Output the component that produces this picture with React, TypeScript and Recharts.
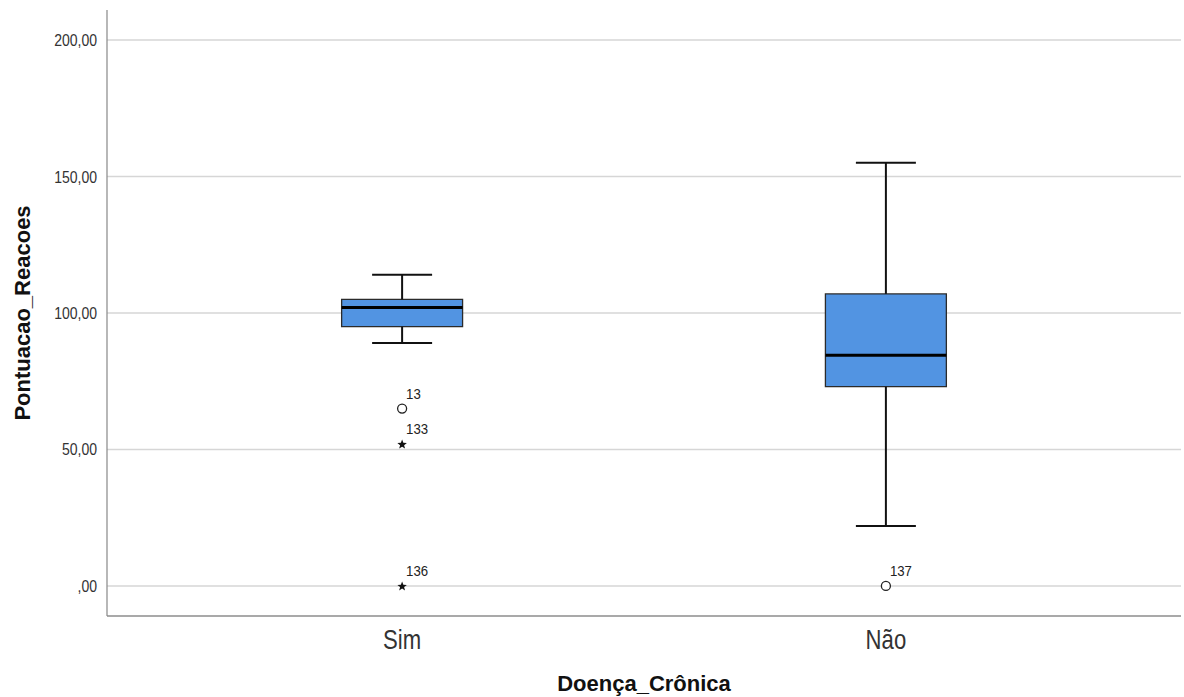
import React from 'react';
import {
  ComposedChart,
  XAxis,
  YAxis,
  CartesianGrid,
  Scatter,
  ReferenceArea,
  ReferenceLine,
} from 'recharts';

// Categories and their positions on the x axis
const categories = ['Sim', 'Não'];
const positions = [1, 2];

// Box plot statistics per category
const whiskerLow = [89, 22];
const q1 = [95, 73];
const median = [102, 84.5];
const q3 = [105, 107];
const whiskerHigh = [114, 155];

// Outliers
const outlierCategory = [1, 1, 1, 2];
const outlierValues = [65, 52, 0, 0];
const outlierIds = ['13', '133', '136', '137'];
const outlierKinds = ['circle', 'star', 'star', 'circle'];

const yTicks = [0, 50, 100, 150, 200];

const outlierData = outlierValues.map((v, i) => ({
  x: outlierCategory[i],
  y: v,
  id: outlierIds[i],
  kind: outlierKinds[i],
}));

const BOX_HALF = 0.125;
const CAP_HALF = 0.062;
const FONT = '"Liberation Sans", Arial, sans-serif';

const starPath = (cx: number, cy: number, r: number) => {
  const pts: string[] = [];
  for (let i = 0; i < 10; i++) {
    const rad = i % 2 === 0 ? r : r * 0.42;
    const a = -Math.PI / 2 + (i * Math.PI) / 5;
    pts.push(`${cx + rad * Math.cos(a)},${cy + rad * Math.sin(a)}`);
  }
  return `M${pts.join('L')}Z`;
};

const OutlierShape = (props: any) => {
  const { cx, cy, payload } = props;
  return (
    <g>
      {payload.kind === 'circle' ? (
        <circle cx={cx} cy={cy} r={4.5} fill="#fff" stroke="#222" strokeWidth={1.3} />
      ) : (
        <path d={starPath(cx, cy + 0.5, 5)} fill="#111" />
      )}
      <text
        transform={`translate(${cx + 4},${cy - 10}) scale(0.88,1)`}
        fontSize={15}
        fontFamily={FONT}
        fill="#222"
      >
        {payload.id}
      </text>
    </g>
  );
};

const XTick = (props: any) => {
  const { x, y, payload } = props;
  return (
    <text
      transform={`translate(${x},${y + 19}) scale(0.82,1)`}
      textAnchor="middle"
      fontSize={27}
      fontFamily={FONT}
      fill="#333"
    >
      {categories[payload.value - 1] ?? ''}
    </text>
  );
};

const YTick = (props: any) => {
  const { x, y, payload } = props;
  const v = payload.value;
  return (
    <text
      transform={`translate(${x},${y + 6}) scale(0.85,1)`}
      textAnchor="end"
      fontSize={16.5}
      fontFamily={FONT}
      fill="#333"
    >
      {v === 0 ? ',00' : `${v},00`}
    </text>
  );
};

export default function App() {
  return (
    <div style={{ position: 'absolute', left: 0, top: 0, background: '#fff' }}>
      <ComposedChart
        width={1184}
        height={697}
        margin={{ top: 10, right: 3, left: 0, bottom: 0 }}
      >
        <CartesianGrid
          vertical={false}
          horizontalValues={yTicks}
          stroke="#d6d6d6"
          strokeWidth={1.6}
        />
        <XAxis
          type="number"
          dataKey="x"
          domain={[0.39, 2.61]}
          ticks={positions}
          allowDataOverflow
          height={81}
          tickSize={0}
          tickMargin={14}
          axisLine={{ stroke: '#555', strokeWidth: 1.2 }}
          tick={<XTick />}
          label={{
            value: 'Doença_Crônica',
            position: 'insideBottom',
            offset: 6,
            style: { fontSize: 22, fontWeight: 'bold', fill: '#111', fontFamily: FONT },
          }}
        />
        <YAxis
          type="number"
          dataKey="y"
          domain={[-11, 211]}
          ticks={yTicks}
          allowDataOverflow
          width={107}
          tickSize={0}
          tickMargin={10}
          axisLine={{ stroke: '#888', strokeWidth: 1.2 }}
          tick={<YTick />}
          label={{
            value: 'Pontuacao_Reacoes',
            angle: -90,
            position: 'insideLeft',
            offset: 22,
            style: {
              fontSize: 22,
              fontWeight: 'bold',
              fill: '#111',
              fontFamily: FONT,
              textAnchor: 'middle',
            },
          }}
        />
        {positions.map((p, i) => (
          <ReferenceLine
            key={`wu${i}`}
            segment={[{ x: p, y: q3[i] }, { x: p, y: whiskerHigh[i] }]}
            stroke="#111"
            strokeWidth={2}
          />
        ))}
        {positions.map((p, i) => (
          <ReferenceLine
            key={`wl${i}`}
            segment={[{ x: p, y: whiskerLow[i] }, { x: p, y: q1[i] }]}
            stroke="#111"
            strokeWidth={2}
          />
        ))}
        {positions.map((p, i) => (
          <ReferenceLine
            key={`cu${i}`}
            segment={[{ x: p - CAP_HALF, y: whiskerHigh[i] }, { x: p + CAP_HALF, y: whiskerHigh[i] }]}
            stroke="#111"
            strokeWidth={2}
          />
        ))}
        {positions.map((p, i) => (
          <ReferenceLine
            key={`cl${i}`}
            segment={[{ x: p - CAP_HALF, y: whiskerLow[i] }, { x: p + CAP_HALF, y: whiskerLow[i] }]}
            stroke="#111"
            strokeWidth={2}
          />
        ))}
        {positions.map((p, i) => (
          <ReferenceArea
            key={`box${i}`}
            x1={p - BOX_HALF}
            x2={p + BOX_HALF}
            y1={q1[i]}
            y2={q3[i]}
            fill="#5294E2"
            fillOpacity={1}
            stroke="#2b2b2b"
            strokeWidth={1.3}
          />
        ))}
        {positions.map((p, i) => (
          <ReferenceLine
            key={`med${i}`}
            segment={[{ x: p - BOX_HALF, y: median[i] }, { x: p + BOX_HALF, y: median[i] }]}
            stroke="#000"
            strokeWidth={3}
          />
        ))}
        <Scatter
          data={outlierData}
          dataKey="y"
          isAnimationActive={false}
          shape={OutlierShape}
        />
      </ComposedChart>
    </div>
  );
}
